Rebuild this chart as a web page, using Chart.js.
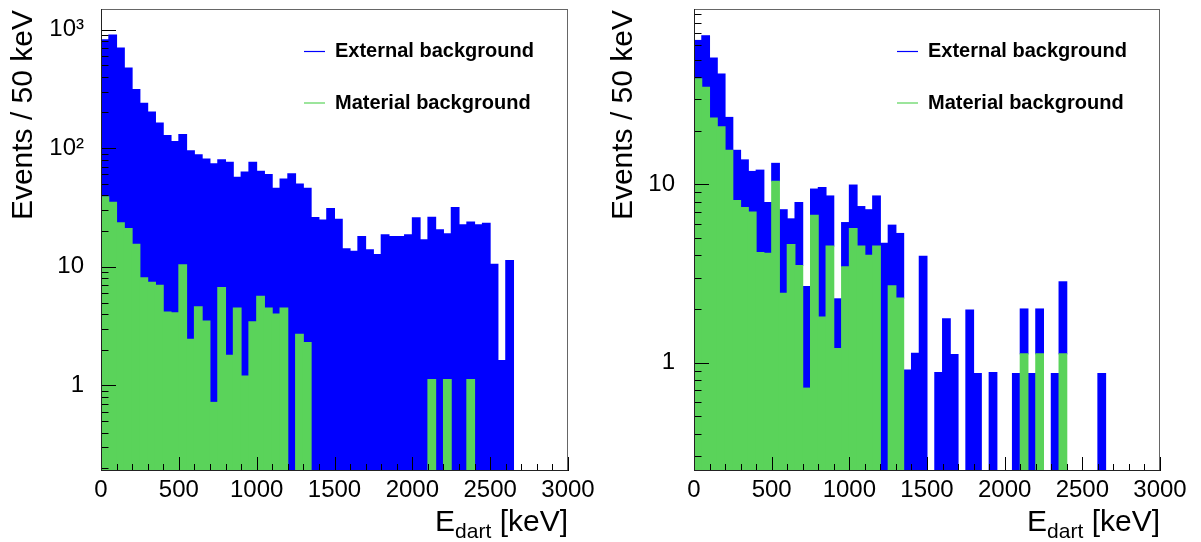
<!DOCTYPE html>
<html>
<head>
<meta charset="utf-8">
<script src="https://cdn.jsdelivr.net/npm/chart.js@4.4.1/dist/chart.umd.min.js"></script>
<style>
body { margin: 0; background: #fff; }
#wrap { position: relative; width: 1201px; height: 542px; }
canvas { position: absolute; top: 0; }
#leftChart { left: 0; }
#rightChart { left: 600px; }
</style>
</head>
<body>
<div id="wrap">
<canvas id="leftChart" width="600" height="542"></canvas>
<canvas id="rightChart" width="601" height="542"></canvas>
</div>
<script>
// 50 keV bins from 0 to 3000 keV (bin centres)
var binCentres = [25, 75, 125, 175, 225, 275, 325, 375, 425, 475,
    525, 575, 625, 675, 725, 775, 825, 875, 925, 975,
    1025, 1075, 1125, 1175, 1225, 1275, 1325, 1375, 1425, 1475,
    1525, 1575, 1625, 1675, 1725, 1775, 1825, 1875, 1925, 1975,
    2025, 2075, 2125, 2175, 2225, 2275, 2325, 2375, 2425, 2475,
    2525, 2575, 2625, 2675, 2725, 2775, 2825, 2875, 2925, 2975];

// material background, same in both panels
var materialBkg = [39, 35, 23.5, 21, 15.5, 8.1, 7.4, 7.0, 4.15, 4.1,
    10.4, 2.45, 4.6, 3.5, 0.72, 6.7, 1.8, 4.5, 1.2, 3.45,
    5.65, 4.5, 4.0, 4.5, null, 2.7, 2.3, null, null, null,
    null, null, null, null, null, null, null, null, null, null,
    null, null, 1.12, null, 1.12, null, null, 1.12, null, null,
    null, null, null, null, null, null, null, null, null, null];

// external background, left panel
var externalLeft = [781, 865, 677, 454, 297, 231, 194, 156, 124, 110,
    120, 92.5, 83.5, 77.5, 73.3, 73.3, 74.2, 52.5, 61.8, 72.5,
    58.4, 55.5, 42, 50.5, 61, 47.3, 43.7, 26, 24.8, 31,
    25.2, 14.2, 13.5, 18, 13.9, 12.7, 18.6, 18, 18, 18.6,
    25.9, 16.9, 25.1, 20.5, 17.9, 31.6, 22.6, 22.7, 22.6, 23.3,
    10.5, 1.62, 11.3, null, null, null, null, null, null, null];

// external background, right panel
var externalRight = [25, 33, 27.5, 20.5, 8.2, 7.4, 6.3, 4.8, 7.85, 3.8,
    2.7, 4.75, 1.8, 4.4, 1.95, 2.7, 7.8, 4.1, 1.08, 2.65,
    4.25, 3.0, 3.2, 4.1, 4.67, 3.2, 3.0, 0.91, 1.13, 3.95,
    null, 0.88, 1.76, 1.11, null, 1.97, 0.87, null, 0.88, null,
    null, 0.87, 0.88, 0.87, 0.88, null, 0.87, 1.72, null, null,
    null, null, 0.87, null, null, null, null, null, null, null];

var xTickValues = [0, 500, 1000, 1500, 2000, 2500, 3000];
var yTicksLeft = [1, 10, 100, 1000];
var yLabelsLeft = ['1', '10', '10\u00b2', '10\u00b3'];
var yTicksRight = [1, 10];
var yLabelsRight = ['1', '10'];

var blue = '#0000ff';
var green = '#5ad35a';
var fontName = '"Liberation Sans", Arial, Helvetica, sans-serif';

function toPoints(arr) {
    return binCentres.map(function (x, i) { return { x: x, y: arr[i] }; });
}

function line(ctx, x1, y1, x2, y2) {
    ctx.beginPath();
    ctx.moveTo(x1, y1);
    ctx.lineTo(x2, y2);
    ctx.stroke();
}

// ROOT-like frame, inner ticks, axis titles and legend
var rootStyle = {
    id: 'rootStyle',
    afterDraw: function (chart) {
        var ctx = chart.ctx;
        var a = chart.chartArea;
        var xs = chart.scales.x, ys = chart.scales.y;
        ctx.save();

        // x ticks every 100 keV, long ones every 500
        ctx.strokeStyle = '#000';
        ctx.lineWidth = 1;
        for (var v = 0; v <= 3000; v += 100) {
            var px = Math.round(xs.getPixelForValue(v)) + 0.5;
            var len = (v % 500 === 0) ? 14 : 7;
            line(ctx, px, a.bottom, px, a.bottom - len);
        }
        // y log ticks
        var dMin = Math.floor(Math.log10(ys.min)), dMax = Math.ceil(Math.log10(ys.max));
        for (var d = dMin; d <= dMax; d++) {
            for (var k = 1; k <= 9; k++) {
                var val = k * Math.pow(10, d);
                if (val < ys.min || val > ys.max) continue;
                var py = Math.round(ys.getPixelForValue(val)) + 0.5;
                line(ctx, a.left, py, a.left + (k === 1 ? 15 : 7.5), py);
            }
        }

        // frame
        ctx.strokeStyle = '#666';
        line(ctx, a.left, a.top + 0.5, a.right, a.top + 0.5);
        line(ctx, a.right - 0.5, a.top, a.right - 0.5, a.bottom);
        ctx.strokeStyle = '#222';
        line(ctx, a.left + 0.5, a.top, a.left + 0.5, a.bottom);
        line(ctx, a.left, a.bottom - 0.5, a.right, a.bottom - 0.5);

        // y title
        ctx.fillStyle = '#000';
        ctx.save();
        ctx.translate(31.5, a.top + 1);
        ctx.rotate(-Math.PI / 2);
        ctx.font = '30px ' + fontName;
        ctx.textAlign = 'right';
        ctx.textBaseline = 'alphabetic';
        ctx.fillText('Events / 50 keV', 0, 0);
        ctx.restore();

        // x title with subscript
        ctx.textAlign = 'left';
        ctx.textBaseline = 'alphabetic';
        ctx.font = '30px ' + fontName;
        var wE = ctx.measureText('E').width;
        var wRest = ctx.measureText(' [keV]').width;
        ctx.font = '21px ' + fontName;
        var wSub = ctx.measureText('dart').width;
        var x0 = a.right - (wE + wSub + wRest);
        ctx.font = '30px ' + fontName;
        ctx.fillText('E', x0, 531);
        ctx.fillText(' [keV]', x0 + wE + wSub, 531);
        ctx.font = '21px ' + fontName;
        ctx.fillText('dart', x0 + wE, 538);

        // legend
        var entries = [['External background', blue, 51.5], ['Material background', green, 103]];
        ctx.font = 'bold 20px ' + fontName;
        ctx.textBaseline = 'middle';
        entries.forEach(function (e) {
            ctx.strokeStyle = e[1];
            ctx.lineWidth = 1.2;
            line(ctx, a.left + 203, e[2], a.left + 224, e[2]);
            ctx.fillStyle = '#000';
            ctx.fillText(e[0], a.left + 234, e[2]);
        });
        ctx.restore();
    }
};

function makeChart(id, external, yMin, yMax, yTicks, yLabels, yWidth, padRight, labelPad) {
    return new Chart(document.getElementById(id), {
        type: 'bar',
        data: {
            datasets: [
                {
                    label: 'Material background',
                    data: toPoints(materialBkg),
                    backgroundColor: green,
                    borderWidth: 0,
                    inflateAmount: 0.5,
                    barPercentage: 1,
                    categoryPercentage: 1
                },
                {
                    label: 'External background',
                    data: toPoints(external),
                    backgroundColor: blue,
                    borderWidth: 0,
                    inflateAmount: 0.5,
                    barPercentage: 1,
                    categoryPercentage: 1
                }
            ]
        },
        options: {
            responsive: false,
            animation: false,
            devicePixelRatio: 1,
            layout: { padding: { left: 0, right: padRight, top: 9, bottom: 0 } },
            plugins: { legend: { display: false }, tooltip: { enabled: false } },
            scales: {
                x: {
                    type: 'linear',
                    min: 0,
                    max: 3000,
                    stacked: true,
                    offset: false,
                    grid: { display: false },
                    border: { display: false },
                    afterBuildTicks: function (s) {
                        s.ticks = xTickValues.map(function (v) { return { value: v }; });
                    },
                    ticks: {
                        font: { family: fontName, size: 24 },
                        color: '#000',
                        padding: -3,
                        maxRotation: 0,
                        autoSkip: false,
                        callback: function (v) { return String(v); }
                    },
                    afterFit: function (s) {
                        s.height = 71;
                        s.paddingLeft = 0;
                        s.paddingRight = 0;
                    }
                },
                y: {
                    type: 'logarithmic',
                    min: yMin,
                    max: yMax,
                    stacked: true,
                    grid: { display: false },
                    border: { display: false },
                    afterBuildTicks: function (s) {
                        s.ticks = yTicks.map(function (v) { return { value: v }; });
                    },
                    ticks: {
                        font: { family: fontName, size: 24 },
                        color: '#000',
                        padding: labelPad,
                        autoSkip: false,
                        callback: function (v) {
                            var i = yTicks.indexOf(v);
                            return i >= 0 ? yLabels[i] : '';
                        }
                    },
                    afterFit: function (s) {
                        s.width = yWidth;
                        s.paddingTop = 0;
                        s.paddingBottom = 0;
                    }
                }
            }
        },
        plugins: [rootStyle]
    });
}

makeChart('leftChart', externalLeft, 0.19, 1490, yTicksLeft, yLabelsLeft, 101, 32, 9);
makeChart('rightChart', externalRight, 0.247, 96, yTicksRight, yLabelsRight, 94, 41, 11);
</script>
</body>
</html>
